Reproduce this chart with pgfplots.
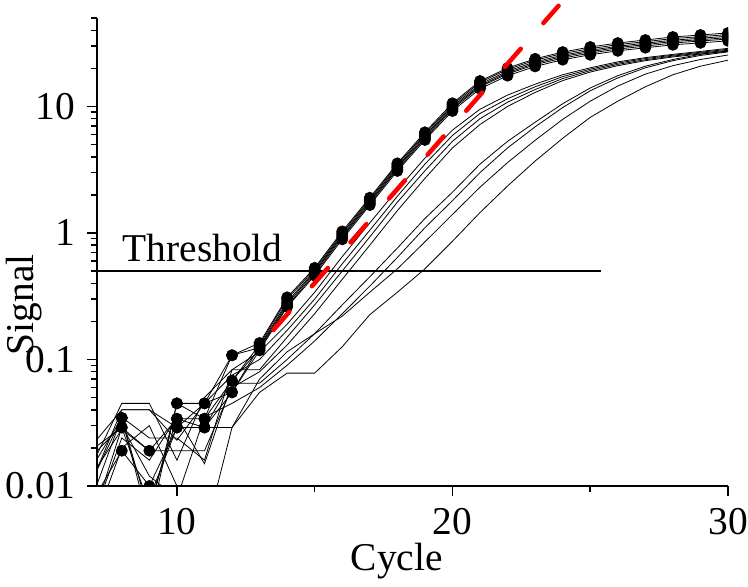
\documentclass[border=0pt]{standalone}
\usepackage{fontspec}
\setmainfont{Liberation Serif}
\usepackage{pgfplots}
\pgfplotsset{compat=1.18}
\begin{document}
\begin{tikzpicture}
\useasboundingbox (-97pt,-101pt) rectangle (651pt,486pt);
\begin{axis}[
  at={(0pt,0pt)}, anchor=south west,
  scale only axis, width=631pt, height=468pt,
  xmin=7.1, xmax=30, ymode=log, ymin=0.01, ymax=50,
  axis x line=bottom, axis y line=left,
  axis line style={-, line width=1.8pt},
  tick align=outside, major tick length=10pt, minor tick length=6pt,
  tick style={black, line width=1.5pt},
  xtick={10,20,30}, xticklabels={10,20,30}, minor xtick={15,25},
  ytick={0.01,0.1,1,10}, yticklabels={0.01,0.1,1,10},
  minor ytick={0.02,0.03,0.04,0.05,0.06,0.07,0.08,0.09,0.2,0.3,0.4,0.5,0.6,0.7,0.8,0.9,2,3,4,5,6,7,8,9,20,30,40,50},
  /pgf/number format/assume math mode=true,
  ticklabel style={font=\fontsize{39.4}{47}\selectfont, inner sep=0pt},
  yticklabel style={xshift=-12pt},
  xticklabel style={yshift=-12pt},
  label style={font=\fontsize{39.4}{47}\selectfont, inner sep=0pt},
  xlabel={Cycle}, ylabel={Signal},
  xlabel style={at={(axis description cs:0.475,-0.1816)}, anchor=base},
  ylabel style={at={(axis description cs:-0.1,0.387)}, anchor=base},
  clip marker paths=true,
  every axis plot/.append style={black, line width=0.8pt},
]
% dotted group
\addplot[mark=*, mark size=5.5pt] coordinates {(7,0.012)(8,0.0345)(9,0.006)(10,0.045)(11,0.045)(12,0.108)(13,0.135)(14,0.31)(15,0.53)(16,1.03)(17,1.9)(18,3.55)(19,6.25)(20,10.6)(21,15.9)(22,20.1)(23,23.8)(24,26.9)(25,29.5)(26,31.7)(27,33.5)(28,35.4)(29,36.7)(30,38.1)};
\addplot[mark=*, mark size=5.5pt] coordinates {(7,0.02)(8,0.029)(9,0.019)(10,0.034)(11,0.034)(12,0.068)(13,0.131)(14,0.30)(15,0.515)(16,1.0)(17,1.85)(18,3.46)(19,6.08)(20,10.3)(21,15.5)(22,19.6)(23,23.2)(24,26.2)(25,28.6)(26,30.8)(27,32.5)(28,34.4)(29,35.6)(30,37.0)};
\addplot[mark=*, mark size=5.5pt] coordinates {(7,0.008)(8,0.019)(9,0.01)(10,0.029)(11,0.029)(12,0.055)(13,0.127)(14,0.285)(15,0.5)(16,0.97)(17,1.8)(18,3.36)(19,5.9)(20,10)(21,15)(22,19)(23,22.5)(24,25.4)(25,27.8)(26,29.9)(27,31.6)(28,33.4)(29,34.6)(30,35.9)};
\addplot[mark=*, mark size=5.5pt] coordinates {(7,0.015)(8,0.0345)(9,0.005)(10,0.045)(11,0.034)(12,0.108)(13,0.124)(14,0.275)(15,0.49)(16,0.945)(17,1.75)(18,3.28)(19,5.75)(20,9.75)(21,14.6)(22,18.5)(23,21.9)(24,24.8)(25,27.1)(26,29.2)(27,30.8)(28,32.6)(29,33.7)(30,35.0)};
\addplot[mark=*, mark size=5.5pt] coordinates {(7,0.006)(8,0.029)(9,0.007)(10,0.034)(11,0.029)(12,0.068)(13,0.121)(14,0.265)(15,0.475)(16,0.92)(17,1.71)(18,3.19)(19,5.6)(20,9.5)(21,14.3)(22,18.1)(23,21.4)(24,24.1)(25,26.4)(26,28.4)(27,30.0)(28,31.7)(29,32.9)(30,34.1)};
\addplot[mark=*, mark size=5.5pt] coordinates {(7,0.01)(8,0.005)(9,0.008)(10,0.029)(11,0.045)(12,0.055)(13,0.118)(14,0.26)(15,0.46)(16,0.89)(17,1.66)(18,3.09)(19,5.43)(20,9.2)(21,13.8)(22,17.5)(23,20.7)(24,23.4)(25,25.6)(26,27.5)(27,29.1)(28,30.7)(29,31.8)(30,33.0)};
% later groups
\addplot[mark=none] coordinates {(7,0.016)(8,0.045)(9,0.045)(10,0.016)(11,0.05)(12,0.083)(13,0.115)(14,0.19)(15,0.34)(16,0.65)(17,1.2)(18,2.2)(19,3.9)(20,6.5)(21,9.5)(22,12.3)(23,15)(24,17.8)(25,20.2)(26,22.5)(27,24.3)(28,25.8)(29,27.2)(30,28.8)};
\addplot[mark=none] coordinates {(7,0.022)(8,0.04)(9,0.04)(10,0.023)(11,0.045)(12,0.075)(13,0.1)(14,0.17)(15,0.3)(16,0.57)(17,1.05)(18,1.95)(19,3.5)(20,5.9)(21,8.8)(22,11.5)(23,14.3)(24,17.2)(25,19.7)(26,22)(27,23.9)(28,25.4)(29,26.8)(30,28.3)};
\addplot[mark=none] coordinates {(7,0.009)(8,0.035)(9,0.024)(10,0.024)(11,0.016)(12,0.083)(13,0.083)(14,0.15)(15,0.27)(16,0.5)(17,0.93)(18,1.75)(19,3.1)(20,5.3)(21,8.0)(22,10.8)(23,13.6)(24,16.6)(25,19.2)(26,21.5)(27,23.4)(28,25)(29,26.4)(30,27.8)};
\addplot[mark=none] coordinates {(7,0.013)(8,0.028)(9,0.019)(10,0.019)(11,0.019)(12,0.06)(13,0.08)(14,0.13)(15,0.23)(16,0.43)(17,0.8)(18,1.5)(19,2.7)(20,4.7)(21,7.2)(22,10)(23,12.9)(24,16)(25,18.7)(26,21)(27,23)(28,24.6)(29,26)(30,27.3)};
\addplot[mark=none] coordinates {(7,0.006)(8,0.024)(9,0.016)(10,0.035)(11,0.015)(12,0.065)(13,0.065)(14,0.1)(15,0.16)(16,0.27)(17,0.45)(18,0.76)(19,1.3)(20,2.1)(21,3.5)(22,5.3)(23,7.5)(24,10.5)(25,14)(26,17.5)(27,20.8)(28,23.5)(29,25.8)(30,27.5)};
\addplot[mark=none] coordinates {(7,0.018)(8,0.03)(9,0.012)(10,0.008)(11,0.035)(12,0.045)(13,0.06)(14,0.09)(15,0.14)(16,0.23)(17,0.38)(18,0.64)(19,1.1)(20,1.8)(21,3.0)(22,4.7)(23,6.9)(24,9.8)(25,13.3)(26,16.8)(27,20.2)(28,23)(29,25.3)(30,27)};
\addplot[mark=none] coordinates {(7,0.012)(8,0.04)(9,0.04)(10,0.029)(11,0.029)(12,0.029)(13,0.07)(14,0.115)(15,0.16)(16,0.22)(17,0.34)(18,0.52)(19,0.85)(20,1.4)(21,2.3)(22,3.6)(23,5.4)(24,7.9)(25,11)(26,14.5)(27,18)(28,21)(29,23.5)(30,25.5)};
\addplot[mark=none] coordinates {(7,0.005)(8,0.02)(9,0.03)(10,0.01)(11,0.004)(12,0.029)(13,0.055)(14,0.078)(15,0.078)(16,0.126)(17,0.226)(18,0.34)(19,0.52)(20,0.86)(21,1.45)(22,2.35)(23,3.7)(24,5.6)(25,8.2)(26,11)(27,14.3)(28,17.8)(29,20.8)(30,23.2)};
% threshold
\addplot[mark=none, line width=1.6pt] coordinates {(7.1,0.5)(25.4,0.5)};
\node[anchor=base west, inner sep=0pt, font=\fontsize{39.4}{47}\selectfont] at (axis cs:8.03,0.597) {Threshold};
\end{axis}
\begin{axis}[
  at={(0pt,0pt)}, anchor=south west,
  scale only axis, width=631pt, height=468pt,
  xmin=7.1, xmax=30, ymode=log, ymin=0.01, ymax=50,
  hide axis, clip=false]
\addplot[mark=none, color=red, line width=4.5pt, line cap=round, dash pattern=on 24.2pt off 34.2pt] coordinates {(13.50,0.171)(23.85,62.4)};
\end{axis}
\end{tikzpicture}
\end{document}
